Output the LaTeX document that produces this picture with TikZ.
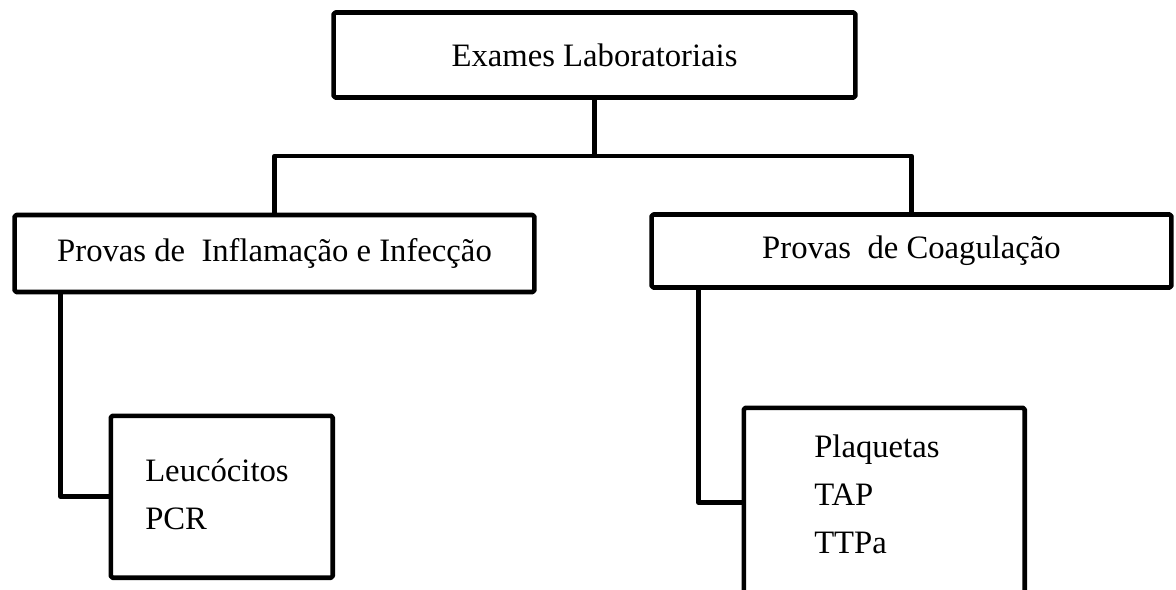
\documentclass[tikz,border=0pt]{standalone}
\usepackage{fontspec}
\setmainfont{Liberation Serif}
\usepackage{tikz}
\tikzset{
    x=0.02cm, y=-0.02cm, % one unit is one pixel of the drawing, y runs downwards
    every node/.style={font=\fontsize{18.6}{27.3}\selectfont}, % text size of all boxes
    exambox/.style={draw, rectangle, rounded corners=1pt, inner sep=0pt}, % the boxes with one title
    listbox/.style={exambox, anchor=north west}, % the boxes that list the exams
}

\begin{document}
\begin{tikzpicture}[line width=2.6pt, line join=round]
    \useasboundingbox (0,0) rectangle (1176,589);
    \clip (0,0) rectangle (1176,589);
    \node[exambox, minimum width=10.44cm, minimum height=1.7cm] (exames) at (594.5,55) {Exames Laboratoriais};
    \node[exambox, minimum width=10.4cm, minimum height=1.54cm] (infl) at (274.5,253.5) {Provas de\ \ Inflamação e Infecção};
    \node[exambox, minimum width=10.4cm, minimum height=1.46cm] (coag) at (911.5,251) {Provas\ \ de Coagulação};
    \node[listbox, inner xsep=0.69cm] (leuco) at (108.5,413.5) {\parbox[t][3.24cm][t]{3.06cm}{\rule{0pt}{1.31cm}Leucócitos\\PCR}};
    \node[listbox, inner xsep=1.41cm] (plaq) at (741.5,405.5) {\parbox[t][3.8cm][t]{2.8cm}{\rule{0pt}{0.99cm}Plaquetas\\TAP\\TTPa}};
    \coordinate (bus) at (594.5,156);
    \draw (exames) -- (bus);
    \draw (infl.north) |- (bus) -| (coag.north);
    \draw ([xshift=0.97cm]infl.south west) |- (leuco.west);
    \draw ([xshift=0.99cm]coag.south west) |- (plaq.west);
\end{tikzpicture}
\end{document}
